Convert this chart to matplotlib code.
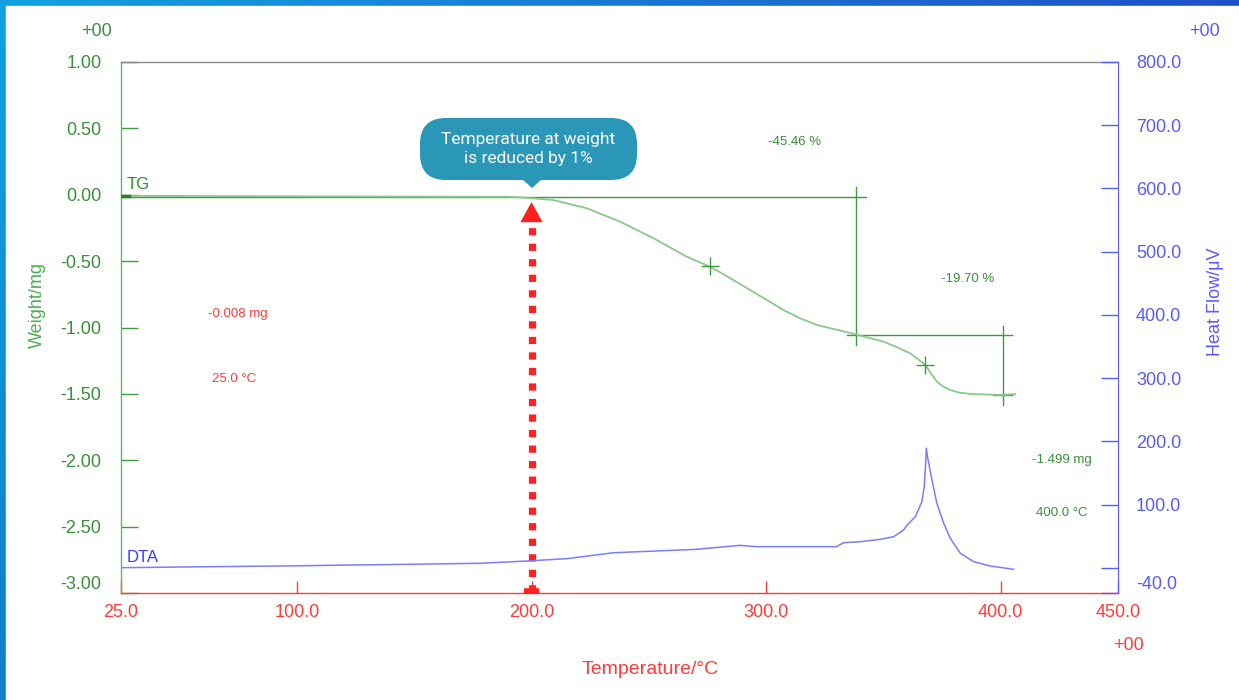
"""TG / DTA thermogram with the 1 % weight-loss temperature marked."""
import numpy as np
import matplotlib
matplotlib.use('Agg')
import matplotlib.pyplot as plt
from matplotlib.patches import FancyBboxPatch, Polygon, Rectangle

plt.rcParams['font.family'] = ['Liberation Sans', 'DejaVu Sans']

# ---- data ----
tg_temp = [25, 100, 190, 195.1, 209.4, 223.6, 237.8, 252.0, 266.2, 275.4,
           280.4, 293.2, 307.4, 314.5, 321.7, 338.0, 342.9, 350.1, 355.8,
           361.5, 367.9, 370.0, 372.8, 375.5, 378.5, 382.0, 387.0, 400.6,
           406.2]
tg_mass = [-0.008, -0.012, -0.016, -0.019, -0.040, -0.102, -0.203, -0.328,
           -0.467, -0.537, -0.584, -0.718, -0.868, -0.931, -0.981, -1.051,
           -1.074, -1.107, -1.149, -1.195, -1.282, -1.340, -1.408, -1.445,
           -1.471, -1.489, -1.501, -1.508, -1.501]

dta_temp = [25, 60, 100, 123, 150, 178, 198, 215, 235, 250, 270, 289, 296,
            315, 330, 333, 340.1, 348.7, 354.3, 358.6, 360.1, 363.6, 366.4,
            367.4, 368.0, 368.3, 368.8, 370.7, 372.8, 375.7, 378.5, 382.8,
            388.5, 395.6, 405.5]
dta_flow = [0, 1.5, 3, 4.3, 5.5, 7, 10.6, 14.3, 23.7, 26, 29, 35.4, 33.3,
            33.3, 33.3, 39.6, 41.1, 44.9, 49, 59.6, 67.5, 80.7, 104.4, 128.1,
            165.1, 189, 175.6, 138.7, 101.8, 70.2, 46.5, 22.8, 9.5, 2.7,
            -2.5]

# step analysis (horizontal / vertical construction lines)
step_h = [(-0.017, 25, 342.7), (-1.057, 334.5, 404.8), (-1.508, 396.9, 404.9)]
step_v = [(338.2, 0.061, -1.132), (401.0, -0.989, -1.584)]
cross_t = [275.9, 367.9]
cross_m = [-0.534, -1.282]

x_ticks = [25, 100, 200, 300, 400, 450]
x_labels = ['25.0', '100.0', '200.0', '300.0', '400.0', '450.0']
w_ticks = [1.0, 0.5, 0.0, -0.5, -1.0, -1.5, -2.0, -2.5, -3.0]
w_labels = ['1.00', '0.50', '0.00', '-0.50', '-1.00', '-1.50', '-2.00',
            '-2.50', '-3.00']
h_ticks = [-40, 0, 100, 200, 300, 400, 500, 600, 700, 800]
h_labels = ['-40.0', '', '100.0', '200.0', '300.0', '400.0', '500.0',
            '600.0', '700.0', '800.0']

onset_temp = 200.0

GREEN = '#3f9b3f'
GREEN_TXT = '#3a8f3a'
TG_LINE = '#8cc88c'
BLUE = '#5a5aff'
DTA_LINE = '#7c7cff'
RED = '#ff3b3b'

W, H = 1239, 700
fig = plt.figure(figsize=(W / 100, H / 100), dpi=100)

# ---- gradient frame (top + left) ----
bg = fig.add_axes([0, 0, 1, 1], zorder=-10)
fx = np.linspace(0, 1, 200)[None, :, None]
fy = np.linspace(0, 1, 120)[:, None, None]
c_tl = np.array([18, 162, 222]) / 255
c_tr = np.array([32, 80, 200]) / 255
c_bl = np.array([14, 128, 196]) / 255
grad = c_tl + (c_tr - c_tl) * fx + (c_bl - c_tl) * fy
bg.imshow(np.clip(grad, 0, 1), extent=(0, W, 0, H), aspect='auto',
          origin='upper')
bg.add_patch(Rectangle((6, 0), W - 6, H - 6, color='white'))
bg.set_xlim(0, W); bg.set_ylim(0, H)
bg.axis('off')

# ---- main axes ----
ax = fig.add_axes([121 / W, 1 - 593 / H, 997 / W, 531 / H])
ax.set_xlim(25, 450)
ax.set_ylim(-3.0, 1.0)

for yv, x0, x1 in step_h:
    ax.plot([x0, x1], [yv, yv], color=GREEN, lw=1.0, zorder=3)
for xv, y0, y1 in step_v:
    ax.plot([xv, xv], [y0, y1], color=GREEN, lw=1.0, zorder=3)
ax.plot(cross_t, cross_m, ls='none', marker='+', ms=13, mew=1.0,
        color=GREEN, zorder=4)
ax.plot(tg_temp, tg_mass, color=TG_LINE, lw=1.3, zorder=3)
ax.plot([25, 28.5], [-0.012, -0.012], color='#2f7f2f', lw=2.5, zorder=4)

ax.set_xticks(x_ticks)
ax.set_xticklabels(x_labels)
ax.set_yticks(w_ticks)
ax.set_yticklabels(w_labels)
ax.tick_params(axis='x', direction='in', length=9, width=1, colors=RED,
               labelsize=13, pad=8)
ax.tick_params(axis='y', direction='in', length=12, width=1, colors=GREEN,
               labelcolor=GREEN_TXT, labelsize=13, pad=14)
ax.get_yticklabels()[-1].set_va('bottom')
ax.spines['left'].set_color('#5cb85c')
ax.spines['bottom'].set_color(RED)
ax.spines['top'].set_color('#8a8a8a')
ax.spines['right'].set_visible(False)
for s in ax.spines.values():
    s.set_linewidth(1.0)

ax.set_xlabel('Temperature/°C', color=RED, fontsize=14)
ax.xaxis.set_label_coords(0.5306, -0.1277)
ax.set_ylabel('Weight/mg', color='#4caf50', fontsize=13)
ax.yaxis.set_label_coords(-0.0753, 0.542)

# ---- DTA on the right axis ----
ax2 = ax.twinx()
ax2.set_ylim(-40, 800)
ax2.plot(dta_temp, dta_flow, color=DTA_LINE, lw=1.1, zorder=3)
ax2.set_yticks(h_ticks)
ax2.set_yticklabels(h_labels)
ax2.tick_params(axis='y', direction='in', length=12, width=1, colors=BLUE,
                labelsize=13, pad=13)
ax2.get_yticklabels()[0].set_va('bottom')
for side in ('left', 'bottom', 'top'):
    ax2.spines[side].set_visible(False)
ax2.spines['right'].set_color(BLUE)
ax2.set_ylabel('Heat Flow/μV', color=BLUE, fontsize=13)
ax2.yaxis.set_label_coords(1.0893, 0.548)

# ---- text labels ----
ax.text(27.5, 0.02, 'TG', color='#2f8a2f', fontsize=12, va='bottom')
ax2.text(27.5, 5, 'DTA', color='#3a3aff', fontsize=12, va='bottom')
ax.text(312, 0.395, '-45.46 %', color=GREEN_TXT, fontsize=9.5,
        ha='center', va='center')
ax.text(386, -0.635, '-19.70 %', color=GREEN_TXT, fontsize=9.5,
        ha='center', va='center')
ax.text(426, -1.995, '-1.499 mg', color=GREEN_TXT, fontsize=9.5,
        ha='center', va='center')
ax.text(426, -2.395, '400.0 °C', color=GREEN_TXT, fontsize=9.5,
        ha='center', va='center')
ax.text(75, -0.9, '-0.008 mg', color=RED, fontsize=9.5,
        ha='center', va='center')
ax.text(73, -1.385, '25.0 °C', color=RED, fontsize=9.5,
        ha='center', va='center')

fig.text(97 / W, 1 - 31 / H, '+00', color=GREEN_TXT, fontsize=13,
         ha='center', va='center')
fig.text(1205 / W, 1 - 31 / H, '+00', color=BLUE, fontsize=13,
         ha='center', va='center')
fig.text(1128 / W, 1 - 645 / H, '+00', color=RED, fontsize=13,
         ha='center', va='center')

# ---- red dotted arrow at the 1 % loss temperature ----
ax.plot([onset_temp, onset_temp], [-2.99, -0.215], color='#ff2020', lw=5.2,
        ls=(0, (1, 1.15)), solid_capstyle='butt', dash_capstyle='butt',
        zorder=5, clip_on=False)
ax.annotate('', xy=(onset_temp, -0.055), xytext=(onset_temp, -0.25),
            arrowprops=dict(arrowstyle='-|>,head_length=1.45,head_width=0.8',
                            color='#ff2020', lw=0, shrinkA=0, shrinkB=0),
            zorder=6)
ax.plot([onset_temp - 3.3, onset_temp + 3.3], [-2.985, -2.985],
        color='#ff2020', lw=4, solid_capstyle='butt', zorder=5,
        clip_on=False)

# ---- callout ----
ov = fig.add_axes([0, 0, 1, 1], zorder=20)
ov.set_xlim(0, W); ov.set_ylim(0, H)
ov.axis('off')
ov.patch.set_alpha(0)
CALL = '#2a96b8'
ov.add_patch(FancyBboxPatch((420, H - 180), 217, 62,
                            boxstyle='round,pad=0,rounding_size=26',
                            fc=CALL, ec='none'))
ov.add_patch(Polygon([(522, H - 179), (542, H - 179), (532, H - 188)],
                     closed=True, fc=CALL, ec='none'))
ov.text(528, H - 149, 'Temperature at weight\nis reduced by 1%',
        color='white', fontsize=12.5, ha='center', va='center',
        family=['Roboto', 'DejaVu Sans'], linespacing=1.3)

fig.savefig('out.png', dpi=100)
